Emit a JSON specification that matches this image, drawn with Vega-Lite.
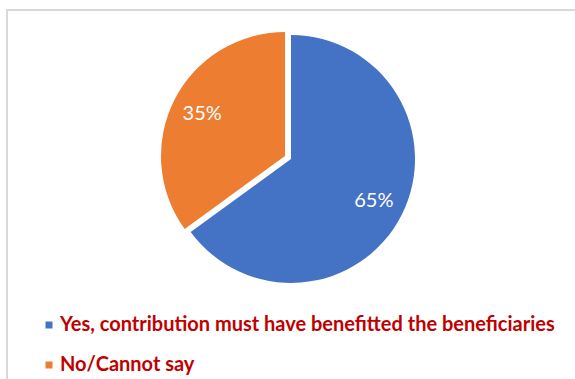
{
  "$schema": "https://vega.github.io/schema/vega-lite/v6.json",
  "width": 575,
  "height": 379,
  "autosize": {"type": "none"},
  "padding": {"left": 7, "top": 10, "right": 0, "bottom": 0},
  "background": "white",
  "view": {"stroke": "#d9d9d9", "strokeWidth": 2, "fill": "white"},
  "config": {"view": {"stroke": "#d9d9d9", "strokeWidth": 2}},
  "data": {
    "values": [
      {"category": "Yes, contribution must have benefitted the beneficiaries", "value": 65, "label": "65%"},
      {"category": "No/Cannot say", "value": 35, "label": "35%"}
    ]
  },
  "encoding": {
    "theta": {"field": "value", "type": "quantitative", "stack": true},
    "order": {"field": "value", "type": "quantitative", "sort": "descending"}
  },
  "layer": [
    {
      "mark": {"type": "arc", "radius": 124, "xOffset": -3.5, "yOffset": -40.5},
      "encoding": {
        "color": {
          "field": "category",
          "type": "nominal",
          "scale": {
            "domain": ["Yes, contribution must have benefitted the beneficiaries", "No/Cannot say"],
            "range": ["#4472C4", "#ED7D31"]
          },
          "legend": {
            "title": null,
            "orient": "none",
            "legendX": 32,
            "legendY": 305,
            "direction": "vertical",
            "symbolType": "square",
            "symbolSize": 49,
            "symbolStrokeWidth": 0,
            "labelFont": "Lato",
            "labelFontWeight": "bold",
            "labelFontSize": 20,
            "labelColor": "#C00000",
            "labelLimit": 600,
            "labelOffset": 1,
            "rowPadding": 20
          }
        },
        "opacity": {
          "condition": {"test": "datum.category === 'No/Cannot say'", "value": 0},
          "value": 1
        }
      }
    },
    {
      "mark": {"type": "arc", "radius": 124, "xOffset": -9.5, "yOffset": -43.5},
      "encoding": {
        "color": {"field": "category", "type": "nominal"},
        "opacity": {
          "condition": {"test": "datum.category === 'No/Cannot say'", "value": 1},
          "value": 0
        }
      }
    },
    {
      "mark": {"type": "text", "radius": 93, "xOffset": -3.5, "yOffset": -40.5, "font": "Lato", "fontSize": 20, "color": "white"},
      "encoding": {
        "text": {"field": "label"},
        "opacity": {
          "condition": {"test": "datum.category === 'No/Cannot say'", "value": 0},
          "value": 1
        }
      }
    },
    {
      "mark": {"type": "text", "radius": 93, "xOffset": -9.5, "yOffset": -43.5, "font": "Lato", "fontSize": 20, "color": "white"},
      "encoding": {
        "text": {"field": "label"},
        "opacity": {
          "condition": {"test": "datum.category === 'No/Cannot say'", "value": 1},
          "value": 0
        }
      }
    }
  ]
}
